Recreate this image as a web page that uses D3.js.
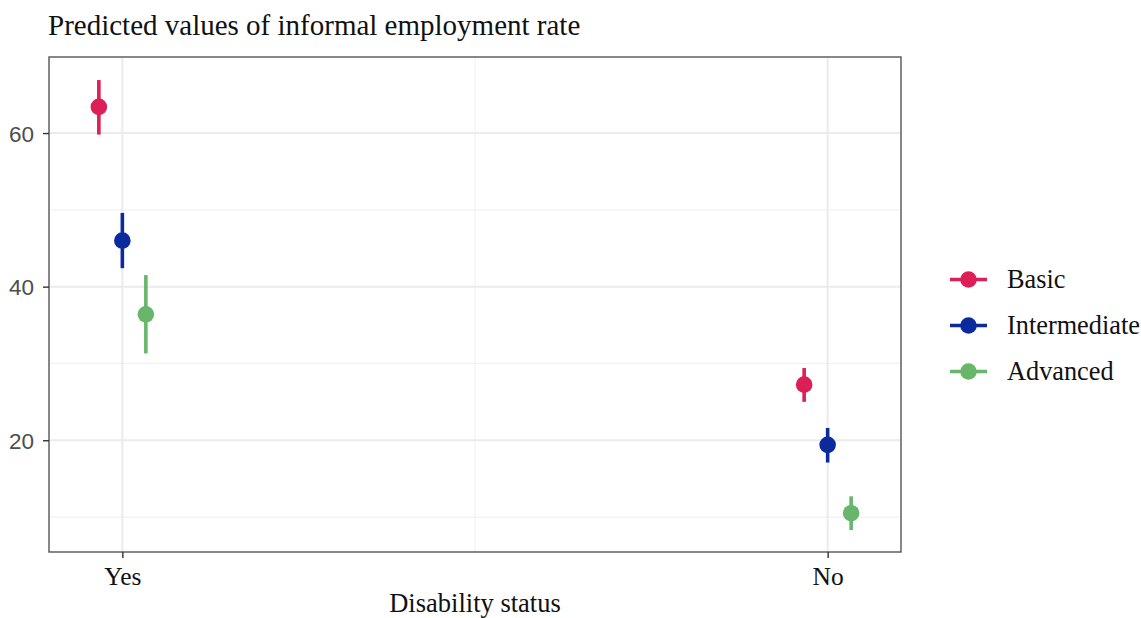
<!DOCTYPE html>
<html>
<head>
<meta charset="utf-8">
<script src="https://cdn.jsdelivr.net/npm/d3@7"></script>
<style>
  html, body { margin: 0; padding: 0; background: #fff; }
  svg { display: block; }
</style>
</head>
<body>
<svg id="chart" width="1141" height="618"></svg>
<script>
// Disability status categories and education levels
const categories = ["Yes", "No"];
const groups = ["Basic", "Intermediate", "Advanced"];
const colors = ["#dc1f57", "#0b2a9e", "#68b56c"];

// Predicted informal employment rate (%) with confidence bounds
const predicted = {
  Basic:        [63.4, 27.25],
  Intermediate: [46.0, 19.4],
  Advanced:     [36.4, 10.5]
};
const lower = {
  Basic:        [59.8, 25.0],
  Intermediate: [42.4, 17.1],
  Advanced:     [31.3, 8.3]
};
const upper = {
  Basic:        [66.9, 29.4],
  Intermediate: [49.6, 21.6],
  Advanced:     [41.5, 12.7]
};
const yTicks = [20, 40, 60];
const yMinor = [10, 30, 50];

const serif = "'Liberation Serif', 'Times New Roman', serif";
const sans = "'Liberation Sans', Arial, sans-serif";

const svg = d3.select("#chart");
const panel = { left: 49, right: 901, top: 57, bottom: 552 };

const x = d3.scalePoint().domain(categories)
  .range([panel.left, panel.right]).padding(0.104);
const dodge = d3.scalePoint().domain(groups).range([-23.5, 23.5]);
const y = d3.scaleLinear().domain([5.45, 69.9]).range([panel.bottom, panel.top]);

// panel grid
const grid = svg.append("g");
grid.selectAll("line.minor-y").data(yMinor).join("line")
  .attr("x1", panel.left).attr("x2", panel.right)
  .attr("y1", d => y(d)).attr("y2", d => y(d))
  .attr("stroke", "#f2f2f2").attr("stroke-width", 1.2);
grid.append("line")
  .attr("x1", (x("Yes") + x("No")) / 2).attr("x2", (x("Yes") + x("No")) / 2)
  .attr("y1", panel.top).attr("y2", panel.bottom)
  .attr("stroke", "#f2f2f2").attr("stroke-width", 1.2);
grid.selectAll("line.major-y").data(yTicks).join("line")
  .attr("x1", panel.left).attr("x2", panel.right)
  .attr("y1", d => y(d)).attr("y2", d => y(d))
  .attr("stroke", "#ebebeb").attr("stroke-width", 2);
grid.selectAll("line.major-x").data(categories).join("line")
  .attr("x1", d => x(d)).attr("x2", d => x(d))
  .attr("y1", panel.top).attr("y2", panel.bottom)
  .attr("stroke", "#ebebeb").attr("stroke-width", 2);

// error bars and points
const marks = svg.append("g");
groups.forEach((g, gi) => {
  const rows = categories.map((c, i) => ({
    c, v: predicted[g][i], lo: lower[g][i], hi: upper[g][i]
  }));
  marks.selectAll(null).data(rows).join("line")
    .attr("x1", d => x(d.c) + dodge(g)).attr("x2", d => x(d.c) + dodge(g))
    .attr("y1", d => y(d.lo)).attr("y2", d => y(d.hi))
    .attr("stroke", colors[gi]).attr("stroke-width", 3.6);
  marks.selectAll(null).data(rows).join("circle")
    .attr("cx", d => x(d.c) + dodge(g)).attr("cy", d => y(d.v))
    .attr("r", 8.3).attr("fill", colors[gi]);
});

// panel border
svg.append("rect")
  .attr("x", panel.left).attr("y", panel.top)
  .attr("width", panel.right - panel.left).attr("height", panel.bottom - panel.top)
  .attr("fill", "none").attr("stroke", "#555").attr("stroke-width", 1.4);

// axes
const yAxis = svg.append("g").attr("transform", `translate(${panel.left},0)`)
  .call(d3.axisLeft(y).tickValues(yTicks).tickSize(6).tickPadding(9));
yAxis.select(".domain").remove();
yAxis.selectAll(".tick line").attr("stroke", "#333").attr("stroke-width", 1.4);
yAxis.selectAll(".tick text").attr("fill", "#4d4d4d").attr("dy", "0.36em")
  .style("font-family", sans).style("font-size", "22.5px");

const xAxis = svg.append("g").attr("transform", `translate(0,${panel.bottom})`)
  .call(d3.axisBottom(x).tickSize(6).tickPadding(3));
xAxis.select(".domain").remove();
xAxis.selectAll(".tick line").attr("stroke", "#333").attr("stroke-width", 1.4);
xAxis.selectAll(".tick text").attr("fill", "#111").attr("dy", null).attr("y", 33)
  .style("font-family", serif).style("font-size", "25.5px");

// titles
svg.append("text").attr("x", 48).attr("y", 35)
  .style("font-family", serif).style("font-size", "29px")
  .attr("fill", "#111").text("Predicted values of informal employment rate");
svg.append("text").attr("x", (panel.left + panel.right) / 2).attr("y", 611.5)
  .attr("text-anchor", "middle")
  .style("font-family", serif).style("font-size", "26.5px")
  .attr("fill", "#111").text("Disability status");

// legend
const legend = svg.append("g");
const legendY = d3.scalePoint().domain(groups).range([279.5, 371.5]);
groups.forEach((g, gi) => {
  const ly = legendY(g);
  legend.append("line").attr("x1", 950).attr("x2", 987).attr("y1", ly).attr("y2", ly)
    .attr("stroke", colors[gi]).attr("stroke-width", 3.6);
  legend.append("circle").attr("cx", 968.5).attr("cy", ly).attr("r", 8.3).attr("fill", colors[gi]);
  legend.append("text").attr("x", 1007).attr("y", ly + 8.5)
    .style("font-family", serif).style("font-size", "26.3px")
    .attr("fill", "#111").text(g);
});
</script>
</body>
</html>
